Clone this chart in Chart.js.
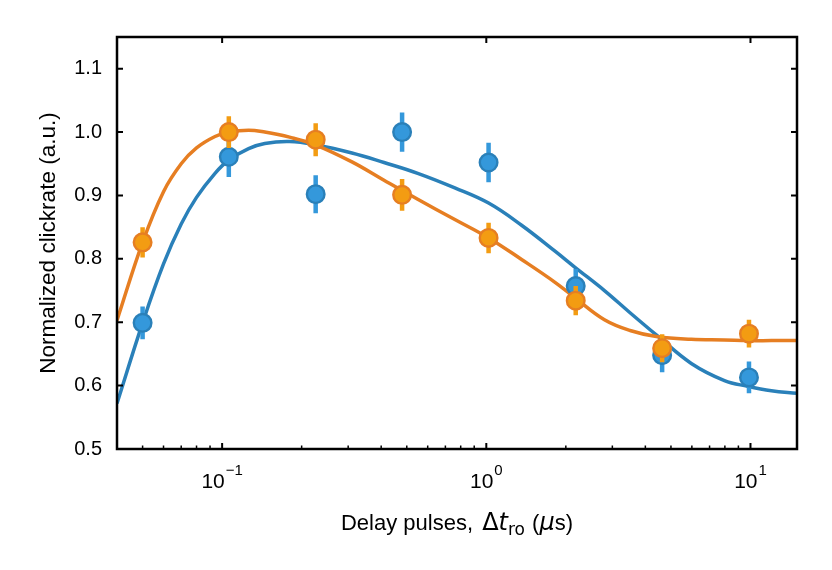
<!DOCTYPE html>
<html>
<head>
<meta charset="utf-8">
<script src="https://cdn.jsdelivr.net/npm/chart.js@4/dist/chart.umd.min.js"></script>
<style>
  html, body { margin: 0; padding: 0; background: #ffffff; }
  #wrap { width: 832px; height: 570px; }
</style>
</head>
<body>
<div id="wrap"><canvas id="c" width="832" height="570"></canvas></div>
<script>
// ---------------- data ----------------
const delays      = [0.05, 0.106, 0.226, 0.48, 1.02, 2.18, 4.63, 9.87];
const blueRate    = [0.699, 0.961, 0.902, 1.000, 0.952, 0.757, 0.648, 0.613];
const blueErr     = [0.026, 0.032, 0.030, 0.031, 0.031, 0.027, 0.027, 0.025];
const orangeRate  = [0.826, 1.000, 0.988, 0.901, 0.833, 0.734, 0.659, 0.682];
const orangeErr   = [0.024, 0.025, 0.026, 0.025, 0.024, 0.023, 0.022, 0.022];

const fitDelays = [0.04, 0.05, 0.06, 0.07, 0.08, 0.094, 0.106, 0.126, 0.145, 0.18, 0.225, 0.31, 0.41, 0.55, 0.76, 1.02, 1.36, 1.82, 2.16, 2.8, 3.5, 4.46, 5.97, 7.97, 9.74, 12, 15];
const blueFit   = [0.572, 0.699, 0.792, 0.855, 0.897, 0.935, 0.956, 0.974, 0.982, 0.985, 0.980, 0.967, 0.952, 0.935, 0.912, 0.888, 0.853, 0.812, 0.787, 0.750, 0.715, 0.678, 0.635, 0.608, 0.599, 0.592, 0.588];
const orangeFit = [0.703, 0.826, 0.906, 0.950, 0.975, 0.993, 1.000, 1.003, 1.000, 0.992, 0.980, 0.953, 0.924, 0.894, 0.862, 0.833, 0.799, 0.763, 0.739, 0.704, 0.687, 0.677, 0.673, 0.672, 0.671, 0.671, 0.671];

const yTicks       = [0.5, 0.6, 0.7, 0.8, 0.9, 1.0, 1.1];
const xMajorTicks  = [0.1, 1, 10];
const xMinorTicks  = [0.05, 0.06, 0.07, 0.08, 0.09, 0.2, 0.3, 0.4, 0.5, 0.6, 0.7, 0.8, 0.9, 2, 3, 4, 5, 6, 7, 8, 9];
const xTickBase    = ['10', '10', '10'];
const xTickExp     = ['\u22121', '0', '1'];
const yTitle       = 'Normalized clickrate (a.u.)';
const xTitleParts  = ['Delay pulses, ', '\u0394', 't', 'ro', ' (', '\u03bc', 's)'];

// ---------------- styles ----------------
const SANS = '"Liberation Sans", Arial, Helvetica, sans-serif';
const MATH = '"DejaVu Sans", sans-serif';
const BLUE_FILL = '#3498db', BLUE_EDGE = '#2a80b9', BLUE_LINE = '#2a80b9';
const ORANGE_FILL = '#f39c12', ORANGE_EDGE = '#e67e22', ORANGE_LINE = '#e67e22';

function points(xs, ys) { return xs.map((x, i) => ({ x: x, y: ys[i] })); }
function errSegments(xs, ys, es) {
  const out = [];
  xs.forEach((x, i) => {
    out.push({ x: x, y: ys[i] - es[i] });
    out.push({ x: x, y: ys[i] + es[i] });
    out.push({ x: x, y: null });
  });
  return out;
}

const markerStyle = (fill, edge) => ({
  showLine: false, pointRadius: 8.8, pointHoverRadius: 8.8, pointBorderWidth: 2.4,
  pointBackgroundColor: fill, pointBorderColor: edge, backgroundColor: fill, borderColor: edge
});
const errStyle = (col) => ({
  showLine: true, spanGaps: false, pointRadius: 0, borderWidth: 4.5, borderColor: col,
  borderCapStyle: 'butt', tension: 0
});
const fitStyle = (col) => ({
  showLine: true, pointRadius: 0, borderWidth: 3.5, borderColor: col,
  cubicInterpolationMode: 'default', tension: 0.4, fill: false
});

// ---------------- frame, ticks, rich text ----------------
function drawRich(ctx, parts, cx, baseline) {
  let w = 0;
  parts.forEach(p => { ctx.font = p.font; p.w = ctx.measureText(p.t).width; w += p.w + (p.gap || 0); });
  let x = cx - w / 2;
  ctx.textAlign = 'left';
  ctx.textBaseline = 'alphabetic';
  ctx.fillStyle = '#000';
  parts.forEach(p => {
    ctx.font = p.font;
    ctx.fillText(p.t, x + (p.gap || 0), baseline + (p.dy || 0));
    x += p.w + (p.gap || 0);
  });
}

const framePlugin = {
  id: 'frame',
  afterDatasetsDraw(chart) {
    const ctx = chart.ctx;
    const { left, right, top, bottom } = chart.chartArea;
    const xs = chart.scales.x, ys = chart.scales.y;
    ctx.save();
    ctx.strokeStyle = '#000';
    ctx.lineWidth = 2.5;
    ctx.strokeRect(left, top, right - left, bottom - top);
    ctx.lineWidth = 2;
    ctx.beginPath();
    yTicks.forEach(v => {
      const py = ys.getPixelForValue(v);
      ctx.moveTo(left, py); ctx.lineTo(left + 6, py);
      ctx.moveTo(right, py); ctx.lineTo(right - 6, py);
    });
    xMajorTicks.forEach(v => {
      const px = xs.getPixelForValue(v);
      ctx.moveTo(px, bottom); ctx.lineTo(px, bottom - 6);
      ctx.moveTo(px, top); ctx.lineTo(px, top + 6);
    });
    ctx.stroke();
    ctx.lineWidth = 1.5;
    ctx.beginPath();
    xMinorTicks.forEach(v => {
      const px = xs.getPixelForValue(v);
      ctx.moveTo(px, bottom); ctx.lineTo(px, bottom - 3.5);
    });
    ctx.stroke();
    ctx.restore();
  },
  afterDraw(chart) {
    const ctx = chart.ctx;
    const { left, right } = chart.chartArea;
    const xs = chart.scales.x;
    ctx.save();
    xMajorTicks.forEach((v, i) => {
      const px = xs.getPixelForValue(v);
      drawRich(ctx, [
        { t: xTickBase[i], font: '21px ' + SANS },
        { t: xTickExp[i], font: '15px ' + SANS, dy: -13, gap: 1 }
      ], px, 488);
    });
    drawRich(ctx, [
      { t: xTitleParts[0], font: '22px ' + SANS },
      { t: xTitleParts[1], font: '24px ' + MATH, gap: 3 },
      { t: xTitleParts[2], font: 'oblique 24px ' + MATH },
      { t: xTitleParts[3], font: '17px ' + MATH, dy: 5 },
      { t: xTitleParts[4], font: '22px ' + SANS, gap: 1 },
      { t: xTitleParts[5], font: 'oblique 24px ' + MATH },
      { t: xTitleParts[6], font: '22px ' + SANS }
    ], (left + right) / 2, 530);
    ctx.restore();
  }
};

// ---------------- chart ----------------
new Chart(document.getElementById('c'), {
  type: 'scatter',
  data: {
    datasets: [
      Object.assign({ label: 'orange data', data: points(delays, orangeRate) }, markerStyle(ORANGE_FILL, ORANGE_EDGE)),
      Object.assign({ label: 'orange err', data: errSegments(delays, orangeRate, orangeErr) }, errStyle(ORANGE_FILL)),
      Object.assign({ label: 'blue data', data: points(delays, blueRate) }, markerStyle(BLUE_FILL, BLUE_EDGE)),
      Object.assign({ label: 'blue err', data: errSegments(delays, blueRate, blueErr) }, errStyle(BLUE_FILL)),
      Object.assign({ label: 'orange fit', data: points(fitDelays, orangeFit) }, fitStyle(ORANGE_LINE)),
      Object.assign({ label: 'blue fit', data: points(fitDelays, blueFit) }, fitStyle(BLUE_LINE))
    ]
  },
  options: {
    responsive: false,
    animation: false,
    devicePixelRatio: 1,
    events: [],
    layout: { padding: { left: 0, right: 35, top: 37, bottom: 0 } },
    plugins: { legend: { display: false }, tooltip: { enabled: false } },
    scales: {
      x: {
        type: 'logarithmic', min: 0.04, max: 15, position: 'bottom',
        afterBuildTicks(s) { s.ticks = xMajorTicks.map(v => ({ value: v })); },
        afterFit(s) { s.height = 121; },
        ticks: { display: false },
        grid: { display: false },
        border: { display: false }
      },
      y: {
        type: 'linear', min: 0.5, max: 1.15, position: 'left',
        afterBuildTicks(s) { s.ticks = yTicks.map(v => ({ value: v })); },
        afterFit(s) { s.width = 117; },
        ticks: {
          color: '#000', padding: 15,
          font: { family: SANS, size: 20 },
          callback: v => Number(v).toFixed(1)
        },
        grid: { display: false, drawTicks: false },
        border: { display: false },
        title: {
          display: true, text: yTitle, color: '#000',
          font: { family: SANS, size: 22.5 },
          padding: { top: 35, bottom: 0 }
        }
      }
    }
  },
  plugins: [framePlugin]
});
</script>
</body>
</html>
